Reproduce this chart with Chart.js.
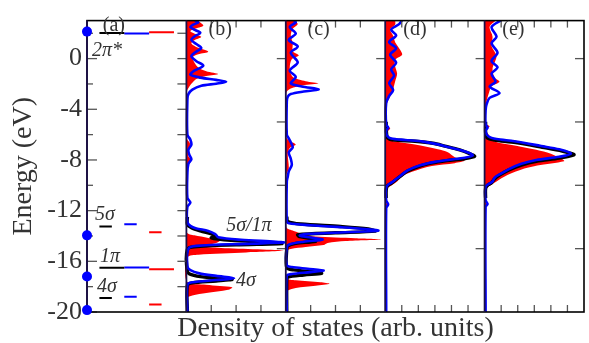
<!DOCTYPE html>
<html><head><meta charset="utf-8">
<script src="https://cdn.jsdelivr.net/npm/chart.js@4"></script>
<style>html,body{margin:0;padding:0;background:#fff;}canvas{display:block;}</style>
</head><body>
<canvas id="c" width="589" height="343"></canvas>
<script>
// ---------- data (energy in eV, density of states in arb. units per panel) ----------
const yTickValues = [-20, -16, -12, -8, -4, 0];
const yTickLabels = ['-20', '-16', '-12', '-8', '-4', '0'];
const panelLabels = ['(a)', '(b)', '(c)', '(d)', '(e)'];

// panel (a): molecular levels
const levelNames = ['2π*', '5σ', '1π', '4σ'];
const levelDeg   = [2, 1, 2, 1];
const levelBlack = [2.03, -13.25, -16.5, -18.9];
const levelBlue  = [1.98, -13.07, -16.48, -18.8];
const levelRed   = [2.09, -13.7, -16.63, -19.4];
const dotEnergies = [2.13, -13.95, -17.2, -19.85];

// panel (b)
const bBlue = [[3.05,0.08],[2.87,0.12],[2.68,0.07],[2.49,0.04],[2.25,0.09],[2.03,0.14],[1.75,0.08],[1.47,0.05],[1.15,0.1],[0.84,0.15],[0.5,0.09],[0.2,0.05],[-0.2,0.1],[-0.56,0.17],[-0.95,0.08],[-1.27,0.04],[-1.5,0.14],[-1.68,0.3],[-1.83,0.4],[-1.98,0.3],[-2.15,0.15],[-2.45,0.06],[-2.8,0.02],[-3.2,0.01],[-6.0,0.01],[-6.4,0.04],[-6.8,0.05],[-7.2,0.02],[-7.6,0.03],[-7.95,0.05],[-8.3,0.02],[-9.0,0.01],[-11.0,0.01],[-11.35,0.04],[-11.7,0.01],[-12.9,0.01],[-13.2,0.04],[-13.4,0.1],[-13.6,0.22],[-13.85,0.29],[-14.1,0.32],[-14.3,0.55],[-14.45,0.9],[-14.52,0.98],[-14.62,0.6],[-14.78,0.1],[-15.0,0.02],[-16.4,0.01],[-16.7,0.04],[-16.95,0.13],[-17.15,0.3],[-17.33,0.48],[-17.48,0.3],[-17.65,0.06],[-17.85,0.01],[-20,0.01]];
const bBlack = [[-12.5,0.01],[-13.1,0.01],[-13.35,0.05],[-13.6,0.14],[-13.85,0.26],[-14.0,0.3],[-14.15,0.25],[-14.35,0.45],[-14.5,0.8],[-14.6,0.96],[-14.7,0.5],[-14.85,0.08],[-15.05,0.01],[-16.8,0.01],[-17.05,0.05],[-17.25,0.18],[-17.42,0.46],[-17.55,0.3],[-17.7,0.06],[-17.9,0.01],[-20,0.01]];
const bRed = [[3.05,0.1],[2.85,0.14],[2.6,0.17],[2.35,0.08],[2.15,0.04],[1.9,0.1],[1.7,0.15],[1.45,0.08],[1.2,0.05],[0.85,0.12],[0.55,0.22],[0.35,0.12],[0.1,0.06],[-0.3,0.08],[-0.7,0.12],[-1.0,0.2],[-1.22,0.32],[-1.38,0.2],[-1.6,0.1],[-1.9,0.06],[-2.2,0.03],[-2.6,0.005],[-6.3,0.005],[-6.6,0.03],[-6.9,0.04],[-7.3,0.02],[-7.7,0.02],[-8.0,0.05],[-8.4,0.02],[-9,0.005],[-13.7,0.005],[-13.95,0.08],[-14.15,0.22],[-14.35,0.34],[-14.55,0.3],[-14.8,0.15],[-14.95,0.35],[-15.15,0.98],[-15.3,0.6],[-15.48,0.12],[-15.7,0.01],[-17.6,0.005],[-17.85,0.2],[-18.05,0.46],[-18.25,0.42],[-18.5,0.2],[-18.7,0.06],[-18.9,0.005],[-20,0.005]];

// panel (c)
const cBlue = [[3.05,0.08],[2.87,0.1],[2.49,0.04],[1.98,0.1],[1.47,0.03],[0.96,0.12],[0.46,0.05],[-0.3,0.12],[-0.94,0.04],[-1.45,0.1],[-1.95,0.05],[-2.2,0.16],[-2.42,0.33],[-2.6,0.18],[-2.8,0.05],[-3.0,0.02],[-3.4,0.01],[-6.0,0.01],[-6.3,0.03],[-6.6,0.05],[-7.0,0.07],[-7.4,0.03],[-7.9,0.05],[-8.4,0.06],[-8.9,0.03],[-9.3,0.02],[-9.7,0.01],[-12.8,0.01],[-13.0,0.03],[-13.15,0.25],[-13.3,0.55],[-13.45,0.8],[-13.58,0.93],[-13.7,0.6],[-13.85,0.2],[-13.97,0.14],[-14.12,0.25],[-14.28,0.37],[-14.45,0.18],[-14.65,0.04],[-14.9,0.01],[-16.3,0.01],[-16.45,0.06],[-16.58,0.22],[-16.72,0.38],[-16.85,0.25],[-17.0,0.06],[-17.15,0.01],[-20,0.01]];
const cBlack = [[-12.5,0.01],[-12.85,0.02],[-13.05,0.15],[-13.25,0.55],[-13.45,0.83],[-13.62,0.9],[-13.75,0.5],[-13.9,0.12],[-14.05,0.14],[-14.25,0.28],[-14.42,0.3],[-14.58,0.1],[-14.78,0.02],[-15.0,0.01],[-16.5,0.01],[-16.68,0.08],[-16.85,0.3],[-16.95,0.36],[-17.08,0.18],[-17.25,0.02],[-17.5,0.01],[-20,0.01]];
const cRed = [[3.05,0.07],[2.74,0.12],[2.36,0.07],[1.85,0.05],[1.22,0.07],[0.58,0.07],[0.25,0.13],[-0.05,0.06],[-0.81,0.04],[-1.45,0.07],[-1.78,0.2],[-1.95,0.33],[-2.12,0.17],[-2.35,0.05],[-2.7,0.005],[-6.2,0.005],[-6.5,0.04],[-6.78,0.1],[-7.05,0.04],[-7.5,0.02],[-8.7,0.03],[-9.2,0.005],[-13.3,0.005],[-13.6,0.08],[-13.85,0.18],[-14.05,0.3],[-14.18,0.7],[-14.28,0.96],[-14.4,0.6],[-14.55,0.42],[-14.72,0.38],[-14.87,0.2],[-15.02,0.05],[-15.2,0.005],[-17.3,0.005],[-17.5,0.1],[-17.65,0.35],[-17.77,0.44],[-17.92,0.3],[-18.1,0.1],[-18.3,0.02],[-18.5,0.005],[-20,0.005]];

// panel (d)
const dBlue = [[3.05,0.17],[2.72,0.14],[2.29,0.06],[1.83,0.11],[1.32,0.04],[0.81,0.11],[0.31,0.05],[-0.33,0.11],[-0.84,0.06],[-1.34,0.09],[-1.93,0.04],[-2.48,0.08],[-2.94,0.04],[-3.5,0.01],[-5.2,0.01],[-5.45,0.03],[-5.7,0.01],[-6.1,0.02],[-6.3,0.06],[-6.42,0.2],[-6.55,0.38],[-6.75,0.52],[-6.95,0.62],[-7.28,0.78],[-7.5,0.86],[-7.65,0.88],[-7.82,0.8],[-7.98,0.65],[-8.15,0.5],[-8.4,0.36],[-8.8,0.23],[-9.2,0.16],[-9.5,0.11],[-9.75,0.07],[-9.95,0.03],[-10.2,0.01],[-11.2,0.01],[-11.5,0.03],[-11.8,0.01],[-20,0.01]];
const dBlack = [[-5.0,0.01],[-6.2,0.02],[-6.4,0.07],[-6.52,0.3],[-6.68,0.48],[-6.9,0.6],[-7.2,0.75],[-7.5,0.85],[-7.72,0.9],[-7.9,0.8],[-8.05,0.62],[-8.25,0.46],[-8.5,0.34],[-8.9,0.22],[-9.3,0.15],[-9.6,0.1],[-9.85,0.06],[-10.05,0.02],[-10.4,0.01],[-11,0.01]];
const dRed = [[3.05,0.1],[2.7,0.1],[2.3,0.05],[1.8,0.08],[1.3,0.1],[0.7,0.15],[0.3,0.17],[-0.1,0.1],[-0.6,0.1],[-1.2,0.12],[-1.8,0.1],[-2.4,0.08],[-3.0,0.05],[-3.5,0.02],[-3.9,0.005],[-5.2,0.005],[-5.5,0.05],[-5.8,0.02],[-6.3,0.03],[-6.55,0.1],[-6.78,0.3],[-7.16,0.53],[-7.4,0.63],[-7.79,0.7],[-8.05,0.8],[-8.25,0.7],[-8.48,0.47],[-8.93,0.27],[-9.3,0.17],[-9.7,0.12],[-10.08,0.05],[-10.4,0.005],[-11.3,0.005],[-11.6,0.03],[-11.9,0.005],[-20,0.005]];

// panel (e)
const eBlue = [[3.05,0.17],[2.49,0.07],[1.73,0.12],[1.22,0.07],[0.46,0.13],[-0.18,0.07],[-0.69,0.13],[-1.19,0.07],[-1.83,0.11],[-2.2,0.05],[-2.72,0.15],[-3.1,0.05],[-3.6,0.02],[-4.1,0.01],[-5.2,0.01],[-5.45,0.03],[-5.7,0.01],[-6.15,0.04],[-6.35,0.12],[-6.52,0.3],[-6.9,0.57],[-7.16,0.75],[-7.5,0.87],[-7.75,0.75],[-8.0,0.52],[-8.3,0.37],[-8.7,0.25],[-9.1,0.16],[-9.4,0.1],[-9.7,0.08],[-9.9,0.04],[-10.1,0.01],[-11.2,0.01],[-11.47,0.03],[-11.7,0.01],[-20,0.01]];
const eBlack = [[-5.0,0.01],[-6.2,0.02],[-6.45,0.12],[-6.65,0.33],[-7.0,0.58],[-7.3,0.78],[-7.6,0.9],[-7.85,0.75],[-8.1,0.52],[-8.4,0.37],[-8.8,0.24],[-9.2,0.15],[-9.5,0.1],[-9.8,0.07],[-10.0,0.03],[-10.25,0.01],[-11,0.01]];
const eRed = [[3.05,0.12],[2.5,0.05],[1.73,0.08],[1.0,0.07],[0.2,0.12],[-0.8,0.08],[-1.5,0.1],[-1.83,0.15],[-2.2,0.07],[-2.8,0.04],[-3.4,0.02],[-4.1,0.005],[-5.1,0.005],[-5.35,0.05],[-5.6,0.01],[-5.9,0.03],[-6.52,0.1],[-6.9,0.33],[-7.41,0.63],[-7.92,0.78],[-8.1,0.8],[-8.43,0.53],[-8.68,0.4],[-9.19,0.23],[-9.7,0.12],[-9.95,0.07],[-10.2,0.02],[-10.5,0.005],[-11.5,0.02],[-12.0,0.005],[-20,0.005]];

// ---------- build datasets ----------
const BLUE = '#0000ff', RED = '#ff0000', BLACK = '#000000';
const panels = [
  {p: 1, blue: bBlue, black: bBlack, red: bRed},
  {p: 2, blue: cBlue, black: cBlack, red: cRed},
  {p: 3, blue: dBlue, black: dBlack, red: dRed},
  {p: 4, blue: eBlue, black: eBlack, red: eRed}
];
const toPts = (pairs, off) => pairs.map(([e, v]) => ({x: off + v, y: e}));
const datasets = [];
panels.forEach(pn => {
  datasets.push({data: toPts(pn.red, pn.p), borderWidth: 0, borderColor: RED, backgroundColor: RED,
    fill: {value: pn.p}, pointRadius: 0, tension: 0.3, order: 4});
  datasets.push({data: toPts(pn.black, pn.p), borderWidth: 3.4, borderColor: BLACK, fill: false,
    pointRadius: 0, tension: 0.3, order: 3});
  datasets.push({data: toPts(pn.blue, pn.p), borderWidth: 2.6, borderColor: BLUE, fill: false,
    pointRadius: 0, tension: 0.3, order: 2});
});
// panel (a) level lines: columns for black / blue / red
const colStart = [0.125, 0.375, 0.625];
const colLen = 0.125;
[[levelBlack, BLACK], [levelBlue, BLUE], [levelRed, RED]].forEach(([arr, col], ci) => {
  arr.forEach((e, i) => {
    const x0 = colStart[ci];
    datasets.push({data: [{x: x0, y: e}, {x: x0 + colLen * levelDeg[i], y: e}],
      borderColor: col, borderWidth: 2, fill: false, pointRadius: 0, order: 1});
  });
});
datasets.push({label: 'dots', data: dotEnergies.map(e => ({x: 0, y: e})), showLine: false,
  pointRadius: 5, pointBackgroundColor: BLUE, pointBorderColor: BLUE, pointBorderWidth: 0,
  clip: false, order: 0});

// ---------- annotations (in data units) ----------
const annotations = [
  {t: panelLabels[0], x: 0.27, y: 2.6, align: 'center', italic: false},
  {t: panelLabels[1], x: 1.34, y: 2.3, align: 'center', italic: false},
  {t: panelLabels[2], x: 2.33, y: 2.3, align: 'center', italic: false},
  {t: panelLabels[3], x: 3.30, y: 2.3, align: 'center', italic: false},
  {t: panelLabels[4], x: 4.29, y: 2.3, align: 'center', italic: false},
  {t: levelNames[0], x: 0.05, y: 0.6, align: 'left', italic: true},
  {t: levelNames[1], x: 0.08, y: -12.35, align: 'left', italic: true},
  {t: levelNames[2], x: 0.13, y: -15.6, align: 'left', italic: true},
  {t: levelNames[3], x: 0.10, y: -18.0, align: 'left', italic: true},
  {t: '5σ/1π', x: 1.40, y: -13.2, align: 'left', italic: true},
  {t: '4σ', x: 1.50, y: -17.55, align: 'left', italic: true}
];

const SERIF = '"Liberation Serif", "Times New Roman", serif';

const framePlugin = {
  id: 'frame',
  beforeDatasetDraw(chart, args) {
    if (chart.data.datasets[args.index].label !== 'dots') return;
    const {ctx, chartArea: a, scales: {x, y}} = chart;
    const line = (x1, y1, x2, y2) => { ctx.beginPath(); ctx.moveTo(x1, y1); ctx.lineTo(x2, y2); ctx.stroke(); };
    ctx.save();
    ctx.strokeStyle = '#555'; ctx.lineWidth = 1.3;
    for (let e = -20; e <= 3; e += 2) {
      const py = y.getPixelForValue(e);
      line(a.left, py, a.left + (e % 4 === 0 ? 10 : 6), py);
    }
    const x1 = x.getPixelForValue(1);
    for (let e = -18; e <= 3; e += 2) { const py = y.getPixelForValue(e); line(x1 - 9, py, x1, py); }
    for (let p = 2; p <= 5; p++) {
      const xr = x.getPixelForValue(p);
      [0, -5, -10, -15].forEach(e => { const py = y.getPixelForValue(e); line(xr - 9, py, xr, py); });
    }
    for (let p = 1; p <= 4; p++) {
      const n = p <= 2 ? 4 : 6;
      for (let k = 1; k < n; k++) {
        const px = x.getPixelForValue(p + k / n);
        line(px, a.top, px, a.top + 7);
        line(px, a.bottom - 7, px, a.bottom);
      }
    }
    ctx.strokeStyle = '#000'; ctx.lineWidth = 1.6;
    ctx.strokeRect(a.left, a.top, a.right - a.left, a.bottom - a.top);
    ctx.strokeStyle = '#1c1048'; ctx.lineWidth = 1.8;
    for (let p = 0; p <= 4; p++) { const px = x.getPixelForValue(p); line(px, a.top, px, a.bottom); }
    ctx.restore();
  },
  afterDraw(chart) {
    const {ctx, scales: {x, y}} = chart;
    ctx.save();
    ctx.fillStyle = '#333';
    ctx.textBaseline = 'middle';
    annotations.forEach(an => {
      ctx.font = (an.italic ? 'italic ' : '') + '20px ' + SERIF;
      ctx.textAlign = an.align;
      ctx.fillText(an.t, x.getPixelForValue(an.x), y.getPixelForValue(an.y));
    });
    ctx.restore();
  }
};

new Chart(document.getElementById('c'), {
  type: 'line',
  data: {datasets},
  plugins: [framePlugin],
  options: {
    indexAxis: 'y',
    responsive: false,
    animation: false,
    events: [],
    layout: {padding: {top: 11, right: 2, left: 0, bottom: 0}},
    plugins: {legend: {display: false}, tooltip: {enabled: false}},
    scales: {
      x: {
        type: 'linear', position: 'bottom', min: 0, max: 5,
        grid: {display: false}, border: {display: false},
        ticks: {display: false},
        title: {display: true, text: 'Density of states (arb. units)', color: '#333',
          font: {family: SERIF, size: 28, lineHeight: 1}, padding: {top: 0, bottom: 0}},
        afterFit(s) { s.height = 31; }
      },
      y: {
        type: 'linear', position: 'left', min: -20, max: 3,
        grid: {display: false, drawTicks: false}, border: {display: false},
        afterBuildTicks(s) { s.ticks = yTickValues.map(v => ({value: v})); },
        ticks: {
          color: '#333', padding: 5, font: {family: SERIF, size: 26},
          callback: (v) => { const i = yTickValues.indexOf(v); return i >= 0 ? yTickLabels[i] : ''; }
        },
        title: {display: true, text: 'Energy (eV)', color: '#333',
          font: {family: SERIF, size: 28, lineHeight: 1}, padding: {top: 10, bottom: 0}},
        afterFit(s) { s.width = 87; }
      }
    }
  }
});
</script>
</body></html>
